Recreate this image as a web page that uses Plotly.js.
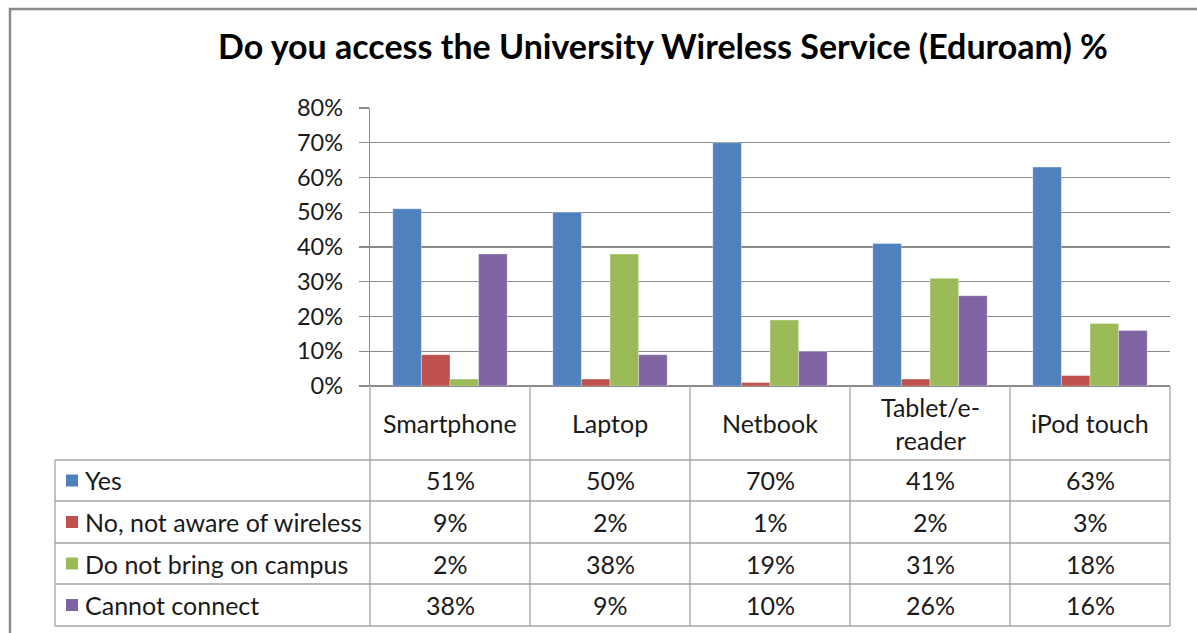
<!DOCTYPE html>
<html>
<head>
<meta charset="utf-8">
<script src="https://cdn.plot.ly/plotly-3.0.1.min.js"></script>
<style>
  html, body { margin: 0; padding: 0; background: #ffffff; }
  #chart { width: 1197px; height: 633px; }
</style>
</head>
<body>
<div id="chart"></div>
<script>
// ---- Data ----
const categories = ["Smartphone", "Laptop", "Netbook", "Tablet/e-reader", "iPod touch"];
const categoryLabels = ["Smartphone", "Laptop", "Netbook", "Tablet/e-<br>reader", "iPod touch"];
const seriesNames = ["Yes", "No, not aware of wireless", "Do not bring on campus", "Cannot connect"];
const yes = [0.51, 0.50, 0.70, 0.41, 0.63];
const notAware = [0.09, 0.02, 0.01, 0.02, 0.03];
const notBring = [0.02, 0.38, 0.19, 0.31, 0.18];
const cannotConnect = [0.38, 0.09, 0.10, 0.26, 0.16];
const colors = ["#4F81BD", "#C0504D", "#9BBB59", "#8064A2"];
const titleText = "Do you access the University Wireless Service (Eduroam) %";

const series = [yes, notAware, notBring, cannotConnect];

// ---- Layout geometry (pixels) ----
const W = 1197, H = 633;
const PL = 370, PR = 1170, PT = 108, PB = 386;
const px = x => (x - PL) / (PR - PL);
const py = y => (PB - y) / (PB - PT);

const FONT = "Lato, 'Open Sans', sans-serif";
const TXT = "#1a1a1a";
const gridCol = "#8a8a8a";
const tabCol = "#a3a3a3";
const BODY = 25;

const traces = series.map((vals, i) => ({
  type: "bar",
  x: categories,
  y: vals,
  name: seriesNames[i],
  marker: { color: colors[i], line: { color: "rgba(255,255,255,0.35)", width: 1 } },
  hoverinfo: "x+y+name",
  showlegend: false
}));

const shapes = [];
const annotations = [];
function line(x0, y0, x1, y1, color, width) {
  shapes.push({ type: "line", xref: "paper", yref: "paper",
    x0: px(x0), y0: py(y0), x1: px(x1), y1: py(y1),
    line: { color: color, width: width } });
}

// outer chart border (top and left visible)
line(9, 9, W + 5, 9, "#8a8a8a", 2.5);
line(10, 8, 10, H + 5, "#8a8a8a", 2.5);

// table geometry
const colX = [370, 530, 690, 850, 1010, 1170];
const rowY = [460, 501, 543, 584, 626];
const tableLeft = 55;

// vertical lines of header row + body
colX.forEach(x => line(x, PB, x, rowY[rowY.length - 1], tabCol, 1.3));
line(tableLeft, rowY[0], tableLeft, rowY[rowY.length - 1], tabCol, 1.3);
// horizontal lines
rowY.forEach(y => line(tableLeft, y, PR, y, tabCol, 1.3));

// category header labels
categoryLabels.forEach((c, j) => {
  annotations.push({ xref: "paper", yref: "paper",
    x: px((colX[j] + colX[j + 1]) / 2), y: py(423),
    text: c, showarrow: false, xanchor: "center", yanchor: "middle",
    font: { family: FONT, size: BODY, color: TXT } });
});

// body rows
series.forEach((vals, i) => {
  const yc = (rowY[i] + rowY[i + 1]) / 2;
  // legend key
  shapes.push({ type: "rect", xref: "paper", yref: "paper",
    x0: px(66), x1: px(78), y0: py(yc - 6), y1: py(yc + 6),
    fillcolor: colors[i], line: { width: 0 } });
  annotations.push({ xref: "paper", yref: "paper",
    x: px(83), y: py(yc), text: seriesNames[i], showarrow: false,
    xanchor: "left", yanchor: "middle",
    font: { family: FONT, size: BODY, color: TXT } });
  vals.forEach((v, j) => {
    annotations.push({ xref: "paper", yref: "paper",
      x: px((colX[j] + colX[j + 1]) / 2), y: py(yc),
      text: Math.round(v * 100) + "%", showarrow: false,
      xanchor: "center", yanchor: "middle",
      font: { family: FONT, size: BODY, color: TXT } });
  });
});

const layout = {
  width: W, height: H,
  margin: { l: PL, r: W - PR, t: PT, b: H - PB, pad: 0 },
  paper_bgcolor: "#ffffff",
  plot_bgcolor: "#ffffff",
  barmode: "group",
  bargap: 0.285,
  bargroupgap: 0,
  title: { text: "<b>" + titleText + "</b>", x: 663 / W, xanchor: "center",
    y: 1 - 47 / H, yanchor: "middle",
    font: { family: FONT, size: 34, color: "#000000" } },
  xaxis: { type: "category", range: [-0.5, 4.5], showticklabels: false,
    showgrid: false, zeroline: false, showline: false, ticks: "" , fixedrange: true},
  yaxis: { range: [0, 0.8], dtick: 0.1, tickformat: ".0%",
    showgrid: true, gridcolor: gridCol, gridwidth: 1.3,
    zeroline: true, zerolinecolor: gridCol, zerolinewidth: 1.3,
    showline: true, linecolor: gridCol, linewidth: 1.3,
    ticks: "outside", ticklen: 10, tickcolor: gridCol, tickwidth: 1.3,
    ticklabelstandoff: 11,
    tickfont: { family: FONT, size: 23.5, color: TXT }, fixedrange: true },
  shapes: shapes,
  annotations: annotations
};

Plotly.newPlot("chart", traces, layout, { displayModeBar: false, staticPlot: true });
</script>
</body>
</html>
